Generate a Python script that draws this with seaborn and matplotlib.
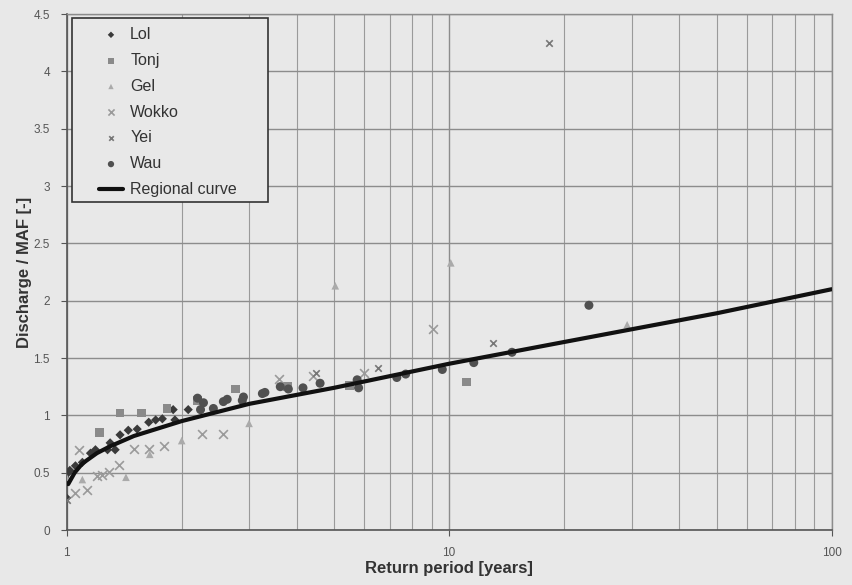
import numpy as np
import pandas as pd
import matplotlib
matplotlib.use("Agg")
import matplotlib.pyplot as plt
from matplotlib.patches import Rectangle
from matplotlib.ticker import FixedLocator, NullFormatter, LogLocator
import seaborn as sns

# Flood frequency data: return period [years] vs discharge / mean annual flood
lol_T = [1.0, 1.0, 1.01, 1.02, 1.055, 1.1, 1.155, 1.19, 1.28, 1.3, 1.34, 1.38, 1.45, 1.53,
         1.64, 1.71, 1.78, 1.9, 1.92, 2.08]
lol_q = [0.28, 0.44, 0.50, 0.52, 0.56, 0.59, 0.67, 0.70, 0.70, 0.76, 0.70, 0.83, 0.87, 0.88,
         0.94, 0.96, 0.97, 1.05, 0.96, 1.05]

tonj_T = [1.22, 1.38, 1.57, 1.83, 2.2, 2.76, 3.78, 5.5, 11.1]
tonj_q = [0.85, 1.02, 1.02, 1.06, 1.13, 1.23, 1.25, 1.26, 1.29]

gel_T = [1.0, 1.1, 1.43, 1.65, 2.0, 3.0, 5.04, 10.1, 29.2]
gel_q = [0.46, 0.44, 0.46, 0.66, 0.78, 0.93, 2.13, 2.33, 1.79]

wokko_T = [1.055, 1.13, 1.075, 1.2, 1.24, 1.29, 1.37, 1.5, 1.64, 1.8, 2.26, 2.57,
           3.6, 4.4, 6.0, 9.1]
wokko_q = [0.32, 0.35, 0.70, 0.47, 0.48, 0.51, 0.57, 0.71, 0.71, 0.73, 0.84, 0.84,
           1.32, 1.34, 1.37, 1.75]

yei_T = [1.0, 4.5, 6.5, 13.0, 18.2]
yei_q = [0.26, 1.37, 1.41, 1.63, 4.25]

wau_T = [2.2, 2.28, 2.24, 2.42, 2.57, 2.63, 2.88, 2.9, 3.25, 3.3, 3.62, 3.8, 4.15, 4.6,
         5.75, 5.8, 7.3, 7.7, 9.6, 11.6, 14.6, 23.2]
wau_q = [1.15, 1.11, 1.05, 1.06, 1.12, 1.14, 1.13, 1.16, 1.19, 1.20, 1.25, 1.23, 1.24, 1.28,
         1.31, 1.24, 1.33, 1.36, 1.40, 1.46, 1.55, 1.96]

curve_T = [1.01, 1.05, 1.1, 1.2, 1.3, 1.5, 2, 3, 5, 10, 20, 50, 100]
curve_q = [0.40, 0.50, 0.58, 0.67, 0.73, 0.82, 0.95, 1.10, 1.24, 1.45, 1.64, 1.89, 2.10]

y_ticks = [0, 0.5, 1, 1.5, 2, 2.5, 3, 3.5, 4, 4.5]
y_tick_labels = ["0", "0.5", "1", "1.5", "2", "2.5", "3", "3.5", "4", "4.5"]
x_ticks = [1, 10, 100]
x_tick_labels = ["1", "10", "100"]

bg = "#e8e8e8"
sns.set_theme(style="white")
plt.rcParams["font.family"] = ["Liberation Sans", "DejaVu Sans"]

W, H = 853, 585
fig = plt.figure(figsize=(W / 100, H / 100), dpi=100, facecolor=bg)
ax = fig.add_axes([0.078, 0.094, 0.897, 0.882])
ax.set_facecolor(bg)

series = [
    ("Lol", lol_T, lol_q, "D", 22, "#3a3a3a"),
    ("Tonj", tonj_T, tonj_q, "s", 40, "#8a8a8a"),
    ("Gel", gel_T, gel_q, "^", 30, "#aaaaaa"),
    ("Wokko", wokko_T, wokko_q, "x", 40, "#9a9a9a"),
    ("Yei", yei_T, yei_q, "x", 22, "#777777"),
    ("Wau", wau_T, wau_q, "o", 42, "#505050"),
]
for name, T, q, mk, sz, col in series:
    df = pd.DataFrame({"T": T, "q": q})
    kw = dict(linewidths=1.2) if mk == "x" else dict(edgecolor="none")
    sns.scatterplot(data=df, x="T", y="q", marker=mk, s=sz, color=col,
                    label=name, ax=ax, zorder=3, **kw)

curve = pd.DataFrame({"T": curve_T, "q": curve_q})
sns.lineplot(data=curve, x="T", y="q", color="#111111", linewidth=3,
             label="Regional curve", ax=ax, zorder=4)

ax.set_xscale("log")
ax.set_xlim(1, 100)
ax.set_ylim(0, 4.5)

ax.xaxis.set_major_locator(FixedLocator(x_ticks))
ax.set_xticklabels(x_tick_labels)
ax.xaxis.set_minor_locator(LogLocator(base=10, subs=np.arange(2, 10)))
ax.xaxis.set_minor_formatter(NullFormatter())
ax.set_yticks(y_ticks)
ax.set_yticklabels(y_tick_labels)

ax.grid(True, which="major", axis="both", color="#8c8c8c", linewidth=1.0)
ax.grid(True, which="minor", axis="x", color="#9a9a9a", linewidth=0.8)
ax.set_axisbelow(True)

ax.tick_params(axis="both", which="major", labelsize=8.5, labelcolor="#555555",
               length=4, width=0.8, color="#555555", direction="out",
               left=True, bottom=True, pad=8)
ax.tick_params(axis="x", which="minor", length=0)

for side in ["left", "bottom"]:
    ax.spines[side].set_color("#555555")
    ax.spines[side].set_linewidth(1.2)
for side in ["top", "right"]:
    ax.spines[side].set_color("#8c8c8c")
    ax.spines[side].set_linewidth(1.0)

ax.set_xlabel("Return period [years]", fontsize=12, fontweight="bold",
              color="#333333", labelpad=2)
ax.set_ylabel("Discharge / MAF [-]", fontsize=12, fontweight="bold",
              color="#333333", labelpad=1)

# legend entries without their own frame; a wider box is drawn behind them
leg = ax.legend(loc="upper left", bbox_to_anchor=(99 / W, 1 - 27 / H),
                bbox_transform=fig.transFigure, fontsize=11.5, frameon=False,
                labelspacing=0.68, handlelength=1.5, handletextpad=0.45,
                borderpad=0, borderaxespad=0, markerscale=0.7)
for t in leg.get_texts():
    t.set_color("#333333")
leg.set_zorder(7)

box = Rectangle((72 / W, 1 - 202 / H), 196 / W, 184 / H, transform=fig.transFigure,
                facecolor=bg, edgecolor="#333333", linewidth=1.2, zorder=6,
                clip_on=False)
ax.add_patch(box)

fig.savefig("out.png", dpi=100, facecolor=bg)
